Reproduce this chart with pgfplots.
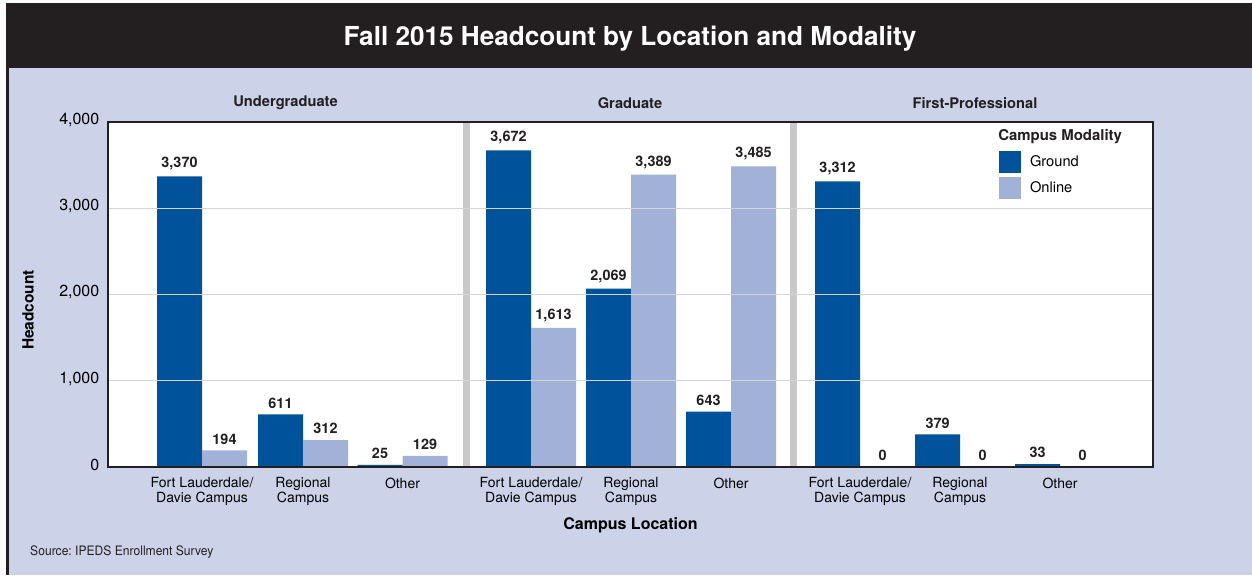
\documentclass[border=0pt]{standalone}
\usepackage{fontspec}
\setmainfont{TeX Gyre Heros}
\usepackage{pgfplots}
\pgfplotsset{compat=1.18}
\definecolor{ground}{RGB}{0,82,155}
\definecolor{online}{RGB}{161,177,216}
\definecolor{bgblue}{RGB}{204,211,232}
\definecolor{titlebar}{RGB}{35,31,32}
\definecolor{sepgray}{RGB}{200,200,200}
\definecolor{gridgray}{RGB}{212,212,212}
\frenchspacing
\begin{document}
\begin{tikzpicture}[px/.style={x=0.75pt,y=-0.75pt,shift={(-81pt,350.25pt)}}]
\begin{scope}[px]
\useasboundingbox (0,0) rectangle (1252,575);
\fill[white] (0,0) rectangle (1252,575);
\fill[bgblue] (6,3) rectangle (1252,575);
\fill[titlebar] (6,3) rectangle (1252,68);
\fill[titlebar] (6,68) rectangle (9,575);
\end{scope}
\begin{axis}[
  at={(0pt,0pt)}, anchor=south west,
  scale only axis, width=783.75pt, height=258.75pt,
  xmin=0, xmax=1045, ymin=0, ymax=4000,
  axis on top,
  axis background/.style={fill=white},
  axis line style={line width=1.6pt, color=titlebar},
  ymajorgrids, grid style={gridgray, line width=0.9pt},
  ytick={0,1000,2000,3000,4000},
  scaled y ticks=false,
  major tick length=0pt,
  /pgf/number format/assume math mode=true,
  /pgf/number format/1000 sep={,},
  yticklabel style={font=\fontsize{12}{14}\selectfont, xshift=-3pt, yshift=1.5pt},
  xtick={94,195,294.5,423,523,623,752,852,952},
  xticklabels={{Fort Lauderdale/\\Davie Campus},{Regional\\Campus},{Other},{Fort Lauderdale/\\Davie Campus},{Regional\\Campus},{Other},{Fort Lauderdale/\\Davie Campus},{Regional\\Campus},{Other}},
  xticklabel style={align=center, font=\fontsize{10.5}{11.25}\selectfont, yshift=-4.5pt},
  xlabel={Campus Location},
  xlabel style={at={(axis description cs:0.5,0)}, anchor=center, yshift=-43.5pt, font=\fontsize{12}{14}\selectfont\bfseries},
  ylabel={Headcount},
  ylabel style={at={(axis description cs:-0.0766,0.455)}, anchor=center, font=\fontsize{11.6}{14}\selectfont\bfseries},
  ybar, bar width=45,
  nodes near coords,
  every node near coord/.append style={font=\fontsize{10.8}{13}\selectfont\bfseries, color=titlebar, yshift=1pt},
  legend style={at={(axis cs:891,3664)}, anchor=north west, draw=none, fill=none, inner sep=0pt, outer sep=0pt, row sep=3pt, column sep=6.75pt, font=\fontsize{11}{13}\selectfont, nodes={inner sep=0pt, anchor=west}},
  legend cell align=left,
]
\fill[sepgray] (axis cs:355,0) rectangle (axis cs:362,4000);
\fill[sepgray] (axis cs:682,0) rectangle (axis cs:689,4000);
\addplot[fill=ground, draw=none, bar shift=0pt,
  legend image code/.code={\fill[ground] (0pt,-8.25pt) rectangle (16.5pt,8.25pt);}]
  coordinates {(71.5,3370) (172.5,611) (272,25) (400.5,3672) (500.5,2069) (600.5,643) (729.5,3312) (829.5,379) (929.5,33)};
\addlegendentry{Ground}
\addplot[fill=online, draw=none, bar shift=0pt,
  legend image code/.code={\fill[online] (0pt,-8.25pt) rectangle (16.5pt,8.25pt);}]
  coordinates {(116.5,194) (217.5,312) (317,129) (445.5,1613) (545.5,3389) (645.5,3485) (774.5,0) (874.5,0) (974.5,0)};
\addlegendentry{Online}
\end{axis}
\begin{scope}[px]
\node[text=white, font=\fontsize{19.6}{23}\selectfont\bfseries] at (630,39) {Fall 2015 Headcount by Location and Modality};
\node[font=\fontsize{11}{13}\selectfont\bfseries, text=titlebar] at (285.5,103) {Undergraduate};
\node[font=\fontsize{11}{13}\selectfont\bfseries, text=titlebar] at (630,103) {Graduate};
\node[font=\fontsize{11}{13}\selectfont\bfseries, text=titlebar] at (975,103) {First-Professional};
\node[anchor=west, inner sep=0pt, font=\fontsize{11.2}{13}\selectfont\bfseries, text=titlebar] at (998,137) {Campus Modality};
\node[anchor=west, inner sep=0pt, xscale=0.93, font=\fontsize{9.75}{12}\selectfont, text=titlebar] at (30,552) {Source: IPEDS Enrollment Survey};
\end{scope}
\end{tikzpicture}
\end{document}
